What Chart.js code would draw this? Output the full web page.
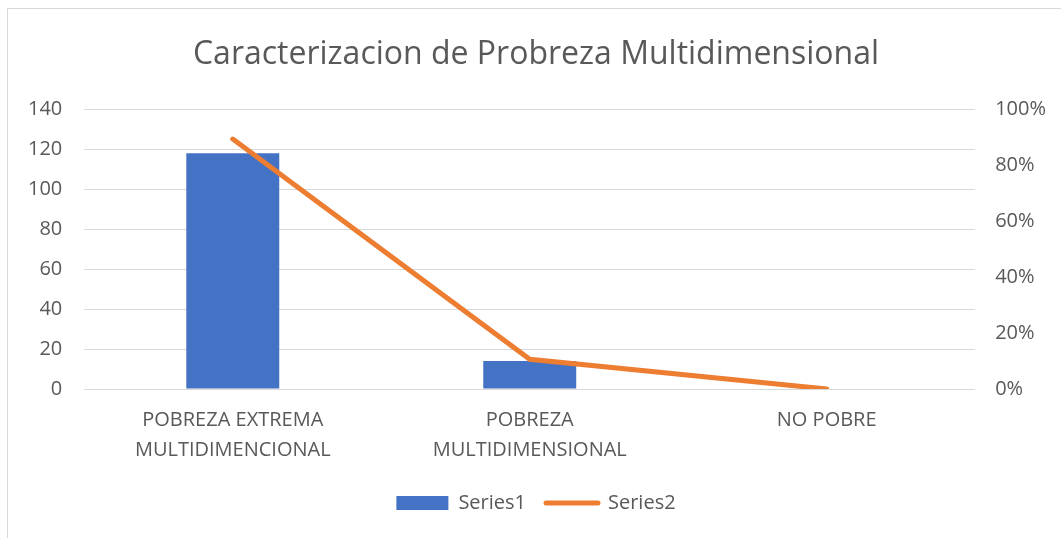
<!DOCTYPE html>
<html>
<head>
<meta charset="utf-8">
<script src="https://cdn.jsdelivr.net/npm/chart.js@4/dist/chart.umd.min.js"></script>
<style>
  body { margin: 0; background: #fff; }
  #wrap { position: relative; width: 1061px; height: 538px; overflow: hidden; }
  #frame { position: absolute; left: 7px; top: 8px; width: 1100px; height: 600px; border: 1px solid #d9d9d9; box-sizing: border-box; }
  canvas { position: absolute; left: 0; top: 0; }
</style>
</head>
<body>
<div id="wrap">
  <div id="frame"></div>
  <canvas id="chart" width="1066" height="538"></canvas>
</div>
<script>
// Data
const categories = [
  ["POBREZA EXTREMA", "MULTIDIMENCIONAL"],
  ["POBREZA", "MULTIDIMENSIONAL"],
  "NO POBRE"
];
const series1 = [118, 14, 0];
const series2 = [0.894, 0.106, 0];
const leftTicks = [0, 20, 40, 60, 80, 100, 120, 140];

const textColor = "#595959";
const fontFamily = "'Open Sans', 'Noto Sans', sans-serif";

const ctx = document.getElementById("chart").getContext("2d");

new Chart(ctx, {
  type: "bar",
  data: {
    labels: categories,
    datasets: [
      {
        label: "Series2",
        type: "line",
        data: series2,
        yAxisID: "y2",
        borderColor: "#ED7D31",
        backgroundColor: "#ED7D31",
        borderWidth: 5,
        pointRadius: 0,
        borderCapStyle: "round",
        order: 0
      },
      {
        label: "Series1",
        data: series1,
        yAxisID: "y",
        backgroundColor: "#4472C4",
        categoryPercentage: 1,
        barPercentage: 0.313,
        order: 1
      }
    ]
  },
  options: {
    responsive: false,
    animation: false,
    layout: { padding: { left: 6, right: 0, top: 10, bottom: 15 } },
    plugins: {
      title: {
        display: true,
        text: "Caracterizacion de Probreza Multidimensional",
        color: textColor,
        font: { family: fontFamily, size: 32, weight: "normal" },
        padding: { top: 26, bottom: 35 }
      },
      legend: {
        position: "bottom",
        reverse: true,
        labels: {
          color: textColor,
          font: { family: fontFamily, size: 20 },
          usePointStyle: true,
          pointStyleWidth: 52,
          boxHeight: 14,
          padding: 20,
          generateLabels(chart) {
            const items = Chart.defaults.plugins.legend.labels.generateLabels(chart);
            items.forEach(it => {
              if (it.text === "Series2") {
                it.pointStyle = "line";
                it.lineWidth = 5;
                it.strokeStyle = "#ED7D31";
                it.lineCap = "round";
              } else {
                it.pointStyle = "rect";
                it.lineWidth = 0;
              }
            });
            return items;
          }
        }
      },
      tooltip: { enabled: false }
    },
    scales: {
      x: {
        grid: { display: false },
        border: { display: false },
        ticks: {
          color: textColor,
          font: { family: fontFamily, size: 20, lineHeight: 1.5 },
          padding: 8,
          maxRotation: 0
        }
      },
      y: {
        position: "left",
        min: 0,
        max: 140,
        afterBuildTicks(axis) { axis.ticks = leftTicks.map(v => ({ value: v })); },
        grid: { color: "#d9d9d9", lineWidth: 1, drawTicks: false },
        border: { display: false },
        ticks: { color: textColor, font: { family: fontFamily, size: 20 }, padding: 22 }
      },
      y2: {
        position: "right",
        min: 0,
        max: 1,
        grid: { display: false, drawTicks: false },
        border: { display: false },
        ticks: {
          stepSize: 0.2,
          color: textColor,
          font: { family: fontFamily, size: 20 },
          padding: 20,
          callback: v => Math.round(v * 100) + "%"
        }
      }
    }
  }
});
</script>
</body>
</html>
